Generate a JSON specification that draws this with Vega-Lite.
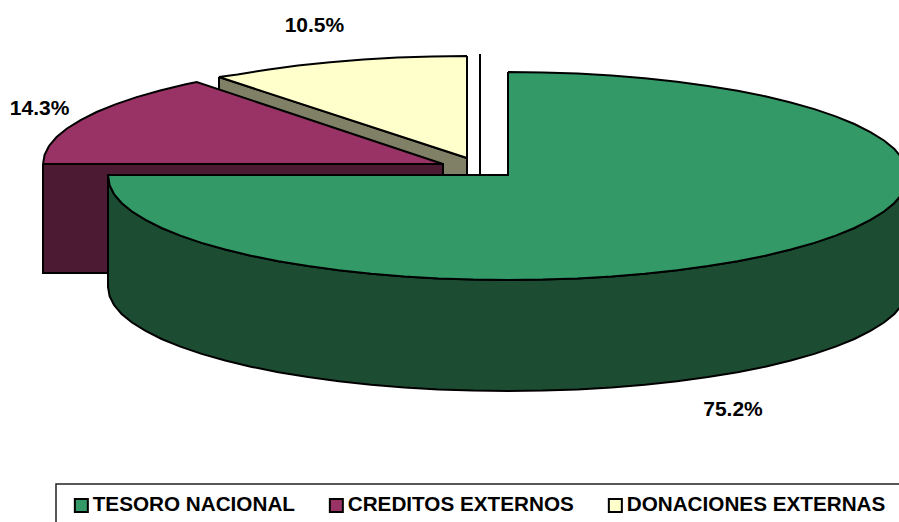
{
"$schema":"https://vega.github.io/schema/vega-lite/v6.json",
"width":899,"height":522,"padding":0,"autosize":{"type":"none"},
"background":"white",
"view":{"stroke":null},
"datasets":{
"marco":[{"x":-113,"x2":110,"y":-77,"y2":-95}],
"caras":[
{"c":"Separador","i":1,"x":-7,"y":30.5},{"c":"Separador","i":2,"x":-7,"y":0},
{"c":"DONACIONES lado","i":3,"x":-72.25,"y":24.75},{"c":"DONACIONES lado","i":4,"x":-10.25,"y":4.5},{"c":"DONACIONES lado","i":5,"x":-10.25,"y":0},{"c":"DONACIONES lado","i":6,"x":-16.25,"y":0},{"c":"DONACIONES lado","i":7,"x":-72.25,"y":14},{"c":"DONACIONES lado","i":8,"x":-72.25,"y":24.75},
{"c":"DONACIONES EXTERNAS","i":10,"x":-10.25,"y":30},{"c":"DONACIONES EXTERNAS","i":11,"x":-18.97,"y":29.9},{"c":"DONACIONES EXTERNAS","i":12,"x":-27.61,"y":29.61},{"c":"DONACIONES EXTERNAS","i":13,"x":-36.13,"y":29.13},{"c":"DONACIONES EXTERNAS","i":14,"x":-44.45,"y":28.46},{"c":"DONACIONES EXTERNAS","i":15,"x":-52.51,"y":27.61},{"c":"DONACIONES EXTERNAS","i":16,"x":-60.25,"y":26.58},{"c":"DONACIONES EXTERNAS","i":17,"x":-67.61,"y":25.39},{"c":"DONACIONES EXTERNAS","i":18,"x":-72.25,"y":24.75},{"c":"DONACIONES EXTERNAS","i":19,"x":-10.25,"y":4.5},{"c":"DONACIONES EXTERNAS","i":20,"x":-10.25,"y":30},
{"c":"CREDITOS lado","i":21,"x":-116.25,"y":3},{"c":"CREDITOS lado","i":22,"x":-16.25,"y":3},{"c":"CREDITOS lado","i":23,"x":-16.25,"y":-24.25},{"c":"CREDITOS lado","i":24,"x":-116.25,"y":-24.25},{"c":"CREDITOS lado","i":25,"x":-116.25,"y":3},
{"c":"CREDITOS EXTERNOS","i":30,"x":-116.25,"y":3},{"c":"CREDITOS EXTERNOS","i":31,"x":-115.85,"y":5.27},{"c":"CREDITOS EXTERNOS","i":32,"x":-114.75,"y":7.51},{"c":"CREDITOS EXTERNOS","i":33,"x":-112.85,"y":9.73},{"c":"CREDITOS EXTERNOS","i":34,"x":-110.25,"y":11.89},{"c":"CREDITOS EXTERNOS","i":35,"x":-106.85,"y":13.99},{"c":"CREDITOS EXTERNOS","i":36,"x":-102.85,"y":16},{"c":"CREDITOS EXTERNOS","i":37,"x":-98.15,"y":17.91},{"c":"CREDITOS EXTERNOS","i":38,"x":-92.85,"y":19.71},{"c":"CREDITOS EXTERNOS","i":39,"x":-86.95,"y":21.38},{"c":"CREDITOS EXTERNOS","i":40,"x":-80.55,"y":22.92},{"c":"CREDITOS EXTERNOS","i":41,"x":-77.82,"y":23.49},{"c":"CREDITOS EXTERNOS","i":42,"x":-16.25,"y":3},{"c":"CREDITOS EXTERNOS","i":43,"x":-116.25,"y":3},
{"c":"TESORO lado","i":50,"x":-100,"y":0.25},{"c":"TESORO lado","i":51,"x":-99.6,"y":-2.27},{"c":"TESORO lado","i":52,"x":-98.5,"y":-4.51},{"c":"TESORO lado","i":53,"x":-96.6,"y":-6.73},{"c":"TESORO lado","i":54,"x":-94,"y":-8.89},{"c":"TESORO lado","i":55,"x":-90.6,"y":-10.99},{"c":"TESORO lado","i":56,"x":-86.6,"y":-13},{"c":"TESORO lado","i":57,"x":-81.9,"y":-14.91},{"c":"TESORO lado","i":58,"x":-76.6,"y":-16.71},{"c":"TESORO lado","i":59,"x":-70.7,"y":-18.38},{"c":"TESORO lado","i":60,"x":-64.3,"y":-19.92},{"c":"TESORO lado","i":61,"x":-57.4,"y":-21.3},{"c":"TESORO lado","i":62,"x":-50,"y":-22.52},{"c":"TESORO lado","i":63,"x":-42.3,"y":-23.56},{"c":"TESORO lado","i":64,"x":-34.2,"y":-24.43},{"c":"TESORO lado","i":65,"x":-25.9,"y":-25.11},{"c":"TESORO lado","i":66,"x":-17.4,"y":-25.6},{"c":"TESORO lado","i":67,"x":-8.7,"y":-25.9},{"c":"TESORO lado","i":68,"x":0,"y":-26},{"c":"TESORO lado","i":69,"x":8.7,"y":-25.9},{"c":"TESORO lado","i":70,"x":17.4,"y":-25.6},{"c":"TESORO lado","i":71,"x":25.9,"y":-25.11},{"c":"TESORO lado","i":72,"x":34.2,"y":-24.43},{"c":"TESORO lado","i":73,"x":42.3,"y":-23.56},{"c":"TESORO lado","i":74,"x":50,"y":-22.52},{"c":"TESORO lado","i":75,"x":57.4,"y":-21.3},{"c":"TESORO lado","i":76,"x":64.3,"y":-19.92},{"c":"TESORO lado","i":77,"x":70.7,"y":-18.38},{"c":"TESORO lado","i":78,"x":76.6,"y":-16.71},{"c":"TESORO lado","i":79,"x":81.9,"y":-14.91},{"c":"TESORO lado","i":80,"x":86.6,"y":-13},{"c":"TESORO lado","i":81,"x":90.6,"y":-10.99},{"c":"TESORO lado","i":82,"x":94,"y":-8.89},{"c":"TESORO lado","i":83,"x":96.6,"y":-6.73},{"c":"TESORO lado","i":84,"x":98.5,"y":-4.51},{"c":"TESORO lado","i":85,"x":99.6,"y":-2.27},{"c":"TESORO lado","i":86,"x":100,"y":0},
{"c":"TESORO lado","i":87,"x":100,"y":-27.75},{"c":"TESORO lado","i":88,"x":99.6,"y":-30.02},{"c":"TESORO lado","i":89,"x":98.5,"y":-32.26},{"c":"TESORO lado","i":90,"x":96.6,"y":-34.48},{"c":"TESORO lado","i":91,"x":94,"y":-36.64},{"c":"TESORO lado","i":92,"x":90.6,"y":-38.74},{"c":"TESORO lado","i":93,"x":86.6,"y":-40.75},{"c":"TESORO lado","i":94,"x":81.9,"y":-42.66},{"c":"TESORO lado","i":95,"x":76.6,"y":-44.46},{"c":"TESORO lado","i":96,"x":70.7,"y":-46.13},{"c":"TESORO lado","i":97,"x":64.3,"y":-47.67},{"c":"TESORO lado","i":98,"x":57.4,"y":-49.05},{"c":"TESORO lado","i":99,"x":50,"y":-50.27},{"c":"TESORO lado","i":100,"x":42.3,"y":-51.31},{"c":"TESORO lado","i":101,"x":34.2,"y":-52.18},{"c":"TESORO lado","i":102,"x":25.9,"y":-52.86},{"c":"TESORO lado","i":103,"x":17.4,"y":-53.35},{"c":"TESORO lado","i":104,"x":8.7,"y":-53.65},{"c":"TESORO lado","i":105,"x":0,"y":-53.75},{"c":"TESORO lado","i":106,"x":-8.7,"y":-53.65},{"c":"TESORO lado","i":107,"x":-17.4,"y":-53.35},{"c":"TESORO lado","i":108,"x":-25.9,"y":-52.86},{"c":"TESORO lado","i":109,"x":-34.2,"y":-52.18},{"c":"TESORO lado","i":110,"x":-42.3,"y":-51.31},{"c":"TESORO lado","i":111,"x":-50,"y":-50.27},{"c":"TESORO lado","i":112,"x":-57.4,"y":-49.05},{"c":"TESORO lado","i":113,"x":-64.3,"y":-47.67},{"c":"TESORO lado","i":114,"x":-70.7,"y":-46.13},{"c":"TESORO lado","i":115,"x":-76.6,"y":-44.46},{"c":"TESORO lado","i":116,"x":-81.9,"y":-42.66},{"c":"TESORO lado","i":117,"x":-86.6,"y":-40.75},{"c":"TESORO lado","i":118,"x":-90.6,"y":-38.74},{"c":"TESORO lado","i":119,"x":-94,"y":-36.64},{"c":"TESORO lado","i":120,"x":-96.6,"y":-34.48},{"c":"TESORO lado","i":121,"x":-98.5,"y":-32.26},{"c":"TESORO lado","i":122,"x":-99.6,"y":-30.02},{"c":"TESORO lado","i":123,"x":-100,"y":-27.75},{"c":"TESORO lado","i":124,"x":-100,"y":0.25},
{"c":"TESORO NACIONAL","i":130,"x":0,"y":26},{"c":"TESORO NACIONAL","i":131,"x":8.7,"y":25.9},{"c":"TESORO NACIONAL","i":132,"x":17.4,"y":25.6},{"c":"TESORO NACIONAL","i":133,"x":25.9,"y":25.11},{"c":"TESORO NACIONAL","i":134,"x":34.2,"y":24.43},{"c":"TESORO NACIONAL","i":135,"x":42.3,"y":23.56},{"c":"TESORO NACIONAL","i":136,"x":50,"y":22.52},{"c":"TESORO NACIONAL","i":137,"x":57.4,"y":21.3},{"c":"TESORO NACIONAL","i":138,"x":64.3,"y":19.92},{"c":"TESORO NACIONAL","i":139,"x":70.7,"y":18.38},{"c":"TESORO NACIONAL","i":140,"x":76.6,"y":16.71},{"c":"TESORO NACIONAL","i":141,"x":81.9,"y":14.91},{"c":"TESORO NACIONAL","i":142,"x":86.6,"y":13},{"c":"TESORO NACIONAL","i":143,"x":90.6,"y":10.99},{"c":"TESORO NACIONAL","i":144,"x":94,"y":8.89},{"c":"TESORO NACIONAL","i":145,"x":96.6,"y":6.73},{"c":"TESORO NACIONAL","i":146,"x":98.5,"y":4.51},{"c":"TESORO NACIONAL","i":147,"x":99.6,"y":2.27},{"c":"TESORO NACIONAL","i":148,"x":100,"y":0},{"c":"TESORO NACIONAL","i":149,"x":99.6,"y":-2.27},{"c":"TESORO NACIONAL","i":150,"x":98.5,"y":-4.51},{"c":"TESORO NACIONAL","i":151,"x":96.6,"y":-6.73},{"c":"TESORO NACIONAL","i":152,"x":94,"y":-8.89},{"c":"TESORO NACIONAL","i":153,"x":90.6,"y":-10.99},{"c":"TESORO NACIONAL","i":154,"x":86.6,"y":-13},{"c":"TESORO NACIONAL","i":155,"x":81.9,"y":-14.91},{"c":"TESORO NACIONAL","i":156,"x":76.6,"y":-16.71},{"c":"TESORO NACIONAL","i":157,"x":70.7,"y":-18.38},{"c":"TESORO NACIONAL","i":158,"x":64.3,"y":-19.92},{"c":"TESORO NACIONAL","i":159,"x":57.4,"y":-21.3},{"c":"TESORO NACIONAL","i":160,"x":50,"y":-22.52},{"c":"TESORO NACIONAL","i":161,"x":42.3,"y":-23.56},{"c":"TESORO NACIONAL","i":162,"x":34.2,"y":-24.43},{"c":"TESORO NACIONAL","i":163,"x":25.9,"y":-25.11},{"c":"TESORO NACIONAL","i":164,"x":17.4,"y":-25.6},{"c":"TESORO NACIONAL","i":165,"x":8.7,"y":-25.9},{"c":"TESORO NACIONAL","i":166,"x":0,"y":-26},{"c":"TESORO NACIONAL","i":167,"x":-8.7,"y":-25.9},{"c":"TESORO NACIONAL","i":168,"x":-17.4,"y":-25.6},{"c":"TESORO NACIONAL","i":169,"x":-25.9,"y":-25.11},{"c":"TESORO NACIONAL","i":170,"x":-34.2,"y":-24.43},{"c":"TESORO NACIONAL","i":171,"x":-42.3,"y":-23.56},{"c":"TESORO NACIONAL","i":172,"x":-50,"y":-22.52},{"c":"TESORO NACIONAL","i":173,"x":-57.4,"y":-21.3},{"c":"TESORO NACIONAL","i":174,"x":-64.3,"y":-19.92},{"c":"TESORO NACIONAL","i":175,"x":-70.7,"y":-18.38},{"c":"TESORO NACIONAL","i":176,"x":-76.6,"y":-16.71},{"c":"TESORO NACIONAL","i":177,"x":-81.9,"y":-14.91},{"c":"TESORO NACIONAL","i":178,"x":-86.6,"y":-13},{"c":"TESORO NACIONAL","i":179,"x":-90.6,"y":-10.99},{"c":"TESORO NACIONAL","i":180,"x":-94,"y":-8.89},{"c":"TESORO NACIONAL","i":181,"x":-96.6,"y":-6.73},{"c":"TESORO NACIONAL","i":182,"x":-98.5,"y":-4.51},{"c":"TESORO NACIONAL","i":183,"x":-99.6,"y":-2.27},{"c":"TESORO NACIONAL","i":184,"x":-100,"y":0.25},{"c":"TESORO NACIONAL","i":185,"x":0,"y":0.25},{"c":"TESORO NACIONAL","i":186,"x":0,"y":26}
],
"etiquetas":[
{"serie":"TESORO NACIONAL","valor":0.752,"x":56.25,"y":-58.4},
{"serie":"CREDITOS EXTERNOS","valor":0.143,"x":-117.1,"y":16.7},
{"serie":"DONACIONES EXTERNAS","valor":0.105,"x":-48.4,"y":37.6}
]
},
"layer":[
{"data":{"name":"marco"},
"mark":{"type":"rect","fill":"white","stroke":"#222222","strokeWidth":1.5},
"encoding":{
"x":{"field":"x","type":"quantitative","scale":{"domain":[-127,97.75],"nice":false,"zero":false},"axis":null},
"x2":{"field":"x2"},
"y":{"field":"y","type":"quantitative","scale":{"domain":[-86.5,44],"nice":false,"zero":false},"axis":null},
"y2":{"field":"y2"}
}},
{"data":{"name":"caras"},
"mark":{"type":"line","stroke":"black","strokeWidth":2,"strokeJoin":"miter","filled":true},
"encoding":{
"x":{"field":"x","type":"quantitative","axis":null},
"y":{"field":"y","type":"quantitative","axis":null},
"order":{"field":"i","type":"quantitative"},
"fill":{"field":"c","type":"nominal",
"scale":{"domain":["TESORO NACIONAL","CREDITOS EXTERNOS","DONACIONES EXTERNAS","Separador","DONACIONES lado","CREDITOS lado","TESORO lado"],"range":["#339966","#993366","#FFFFCC","transparent","#808066","#4D1A33","#1C4D33"]},
"legend":{"title":null,"orient":"none","legendX":71,"legendY":495,"direction":"horizontal","columns":3,"values":["TESORO NACIONAL","CREDITOS EXTERNOS","DONACIONES EXTERNAS"],"columnPadding":30,"padding":0,"symbolType":"square","symbolSize":169,"symbolStrokeColor":"black","symbolStrokeWidth":2,"labelFont":"Liberation Sans","labelFontWeight":"bold","labelFontSize":20.7,"labelColor":"black","labelOffset":1,"labelLimit":400}}
}},
{"data":{"name":"etiquetas"},
"mark":{"type":"text","font":"Liberation Sans","fontWeight":"bold","fontSize":21,"color":"black","baseline":"middle","align":"center"},
"encoding":{
"x":{"field":"x","type":"quantitative"},
"y":{"field":"y","type":"quantitative"},
"text":{"field":"valor","type":"quantitative","format":".1%"}
}}
]
}
